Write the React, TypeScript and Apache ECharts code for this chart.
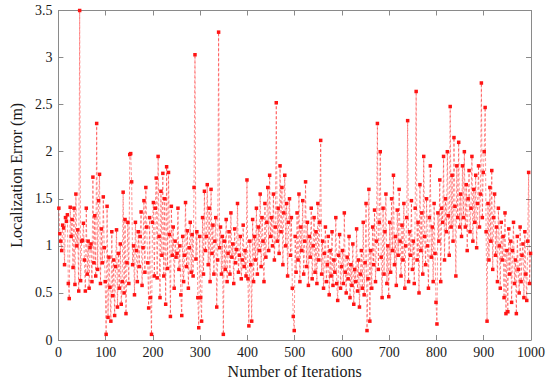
import React, { useEffect, useRef } from "react";
import * as echarts from "echarts";

const errors: number[] = [
  // 1-49
  1.40, 1.13, 1.05, 0.95, 1.22, 1.19, 0.80, 1.30, 1.26, 1.33, 0.60, 0.44, 1.41, 1.10, 1.28, 0.77, 1.40, 0.59, 1.55, 1.00, 1.17, 0.52, 3.50, 0.63, 1.05,
  // 51-99
  1.06, 1.24, 0.85, 0.52, 1.40, 0.70, 1.05, 0.55, 0.98, 1.02, 0.62, 1.73, 0.82, 1.32, 0.68, 2.30, 0.75, 1.48, 1.76, 0.60, 1.18, 0.82, 1.52, 0.98, 0.62,
  // 101-149
  0.06, 1.42, 0.24, 0.88, 0.56, 0.20, 1.15, 0.47, 0.85, 0.26, 0.78, 1.17, 0.35, 0.92, 0.55, 1.02, 0.38, 0.62, 1.57, 0.50, 1.28, 0.28, 0.82, 1.25, 0.60,
  // 151-199
  1.97, 1.98, 1.68, 0.80, 1.00, 0.48, 1.25, 0.95, 0.62, 1.15, 0.78, 1.10, 1.36, 0.58, 0.98, 1.48, 0.72, 1.62, 1.20, 0.82, 0.34, 1.30, 0.45, 0.06, 1.25,
  // 201-249
  1.46, 0.68, 1.40, 1.72, 0.66, 1.95, 1.10, 0.45, 1.58, 0.90, 1.77, 0.68, 1.50, 0.38, 1.84, 0.76, 1.78, 1.12, 0.25, 1.42, 0.90, 1.20, 0.55, 1.05, 0.88,
  // 251-299
  0.92, 1.40, 0.75, 1.00, 0.48, 0.26, 1.10, 0.62, 0.90, 1.46, 0.78, 1.16, 0.55, 0.98, 1.25, 0.72, 1.12, 0.68, 1.62, 3.03, 0.86, 1.15, 0.45, 0.13, 1.10,
  // 301-349
  0.45, 0.20, 1.30, 0.70, 1.58, 0.95, 1.10, 1.65, 0.80, 1.40, 0.62, 1.60, 0.92, 1.22, 0.70, 1.05, 1.30, 0.35, 0.85, 3.27, 0.98, 1.20, 0.70, 1.10, 0.06,
  // 351-399
  1.05, 0.75, 1.28, 0.62, 0.92, 1.15, 0.70, 1.35, 0.88, 1.02, 0.60, 1.18, 0.82, 0.96, 1.45, 0.72, 0.90, 1.10, 0.65, 0.85, 1.22, 0.78, 0.95, 0.68, 1.70,
  // 401-449
  0.65, 0.15, 1.05, 0.80, 0.20, 1.28, 0.62, 1.10, 0.85, 1.40, 0.70, 1.20, 0.95, 1.55, 0.78, 1.30, 1.05, 0.62, 1.45, 0.88, 1.25, 1.62, 0.95, 1.75, 1.10,
  // 451-499
  1.30, 1.00, 1.55, 0.85, 1.20, 2.52, 1.05, 1.40, 0.92, 1.85, 1.15, 1.62, 0.80, 1.35, 1.75, 1.00, 1.45, 0.68, 1.25, 1.50, 0.90, 1.30, 0.55, 0.25, 0.10,
  // 501-549
  1.10, 0.72, 1.35, 0.85, 1.55, 0.62, 1.20, 0.95, 1.48, 0.70, 1.05, 1.68, 0.78, 1.25, 0.58, 1.10, 0.88, 1.40, 0.65, 1.00, 1.30, 0.72, 1.15, 0.60, 1.45,
  // 551-599
  0.85, 1.25, 2.12, 0.70, 1.05, 0.55, 0.92, 1.20, 0.62, 0.80, 1.10, 0.48, 0.95, 0.68, 1.15, 0.58, 0.85, 0.72, 1.30, 0.60, 0.42, 0.90, 1.12, 0.55, 0.78,
  // 601-649
  0.95, 0.60, 1.35, 0.72, 0.50, 0.88, 0.65, 1.10, 0.45, 0.80, 0.58, 1.02, 0.38, 0.75, 0.62, 1.18, 0.52, 0.85, 0.35, 0.70, 0.95, 0.55, 1.25, 0.48, 0.82,
  // 651-699
  1.45, 0.10, 0.65, 1.60, 0.20, 0.95, 0.55, 1.20, 0.80, 1.38, 0.62, 1.05, 2.30, 0.75, 1.25, 2.00, 0.88, 0.45, 1.40, 0.70, 1.15, 1.55, 0.60, 1.00, 0.46,
  // 701-749
  1.25, 0.72, 1.50, 0.95, 1.75, 0.80, 1.10, 0.58, 1.38, 0.90, 1.60, 1.05, 0.68, 1.22, 0.85, 1.45, 0.55, 1.00, 1.30, 2.33, 0.62, 1.15, 0.90, 1.48, 0.75,
  // 751-799
  1.05, 0.60, 1.40, 2.64, 0.85, 1.25, 0.50, 1.65, 0.95, 1.35, 0.70, 1.95, 1.10, 0.80, 1.50, 1.00, 0.55, 1.30, 1.85, 0.88, 1.20, 0.62, 1.45, 0.92, 0.40,
  // 801-849
  0.17, 1.35, 1.05, 1.70, 0.62, 1.40, 1.25, 1.95, 0.85, 1.50, 1.15, 2.00, 1.32, 0.90, 2.48, 1.20, 1.75, 1.05, 2.15, 1.42, 0.68, 1.85, 1.30, 2.10, 1.20,
  // 851-899
  1.55, 1.10, 1.85, 1.30, 2.00, 1.20, 1.65, 0.95, 1.50, 1.80, 1.15, 1.40, 1.95, 1.05, 1.60, 1.25, 1.75, 0.98, 1.45, 1.85, 1.20, 1.55, 2.73, 1.30, 1.78,
  // 901-949
  2.00, 2.47, 1.15, 0.20, 1.45, 0.85, 1.62, 1.05, 1.80, 0.75, 1.30, 1.55, 0.90, 1.20, 0.62, 1.40, 1.00, 0.55, 1.25, 0.85, 1.10, 0.45, 1.35, 0.28, 0.95,
  // 951-999
  0.30, 1.18, 0.70, 1.05, 0.40, 0.95, 1.25, 0.60, 0.85, 0.28, 1.10, 0.75, 0.50, 1.20, 0.62, 0.90, 1.02, 0.45, 1.15, 0.70, 0.42, 1.05, 1.78, 0.60, 0.92,
];

const iterationStep = 2;
const iterations: number[] = errors.map((_, i) => 1 + i * iterationStep);

const xTicks = { min: 0, max: 1000, interval: 100 };
const yTicks = { min: 0, max: 3.5, interval: 0.5 };

const FONT = "Liberation Serif";
const AXIS_GRAY = "#8a8a8a";
const TEXT = "#1a1a1a";

export default function App() {
  const ref = useRef<HTMLDivElement>(null);

  useEffect(() => {
    if (!ref.current) return;
    const chart = echarts.init(ref.current, undefined, { renderer: "svg" });
    const lineStyle = { color: AXIS_GRAY, width: 1 };
    const baseX = {
      type: "value" as const,
      min: xTicks.min,
      max: xTicks.max,
      interval: xTicks.interval,
      splitLine: { show: false },
      axisLine: { show: true, onZero: false, lineStyle },
      axisTick: { show: true, inside: true, length: 5, lineStyle },
    };
    const baseY = {
      type: "value" as const,
      min: yTicks.min,
      max: yTicks.max,
      interval: yTicks.interval,
      splitLine: { show: false },
      axisLine: { show: true, onZero: false, lineStyle },
      axisTick: { show: true, inside: true, length: 5, lineStyle },
    };
    chart.setOption({
      animation: false,
      backgroundColor: "#ffffff",
      textStyle: { fontFamily: FONT },
      grid: { left: 49, right: 19, top: 10.5, bottom: 45, containLabel: false },
      xAxis: [
        {
          ...baseX,
          position: "bottom",
          name: "Number of Iterations",
          nameLocation: "middle",
          nameGap: 21,
          nameTextStyle: { fontFamily: FONT, fontSize: 16, color: TEXT },
          axisLabel: {
            show: true,
            margin: 5,
            fontFamily: FONT,
            fontSize: 14,
            color: TEXT,
            formatter: (v: number) => String(v),
          },
        },
        { ...baseX, position: "top", axisLabel: { show: false } },
      ],
      yAxis: [
        {
          ...baseY,
          position: "left",
          name: "Localization Error (m)",
          nameLocation: "middle",
          nameGap: 27,
          nameTextStyle: { fontFamily: FONT, fontSize: 16, color: TEXT },
          axisLabel: {
            show: true,
            margin: 6,
            fontFamily: FONT,
            fontSize: 14,
            color: TEXT,
            formatter: (v: number) => String(v),
          },
        },
        { ...baseY, position: "right", axisLabel: { show: false } },
      ],
      series: [
        {
          type: "line",
          xAxisIndex: 0,
          yAxisIndex: 0,
          data: iterations.map((x, i) => [x, errors[i]]),
          symbol: "rect",
          symbolSize: 3.5,
          itemStyle: { color: "#ff1414" },
          lineStyle: { color: "rgba(255,0,0,0.55)", width: 0.8, type: [3, 2] },
          emphasis: { disabled: true },
        },
      ],
    });
    return () => chart.dispose();
  }, []);

  return (
    <div
      ref={ref}
      style={{ position: "fixed", left: 0, top: 0, width: 550, height: 385 }}
    />
  );
}
